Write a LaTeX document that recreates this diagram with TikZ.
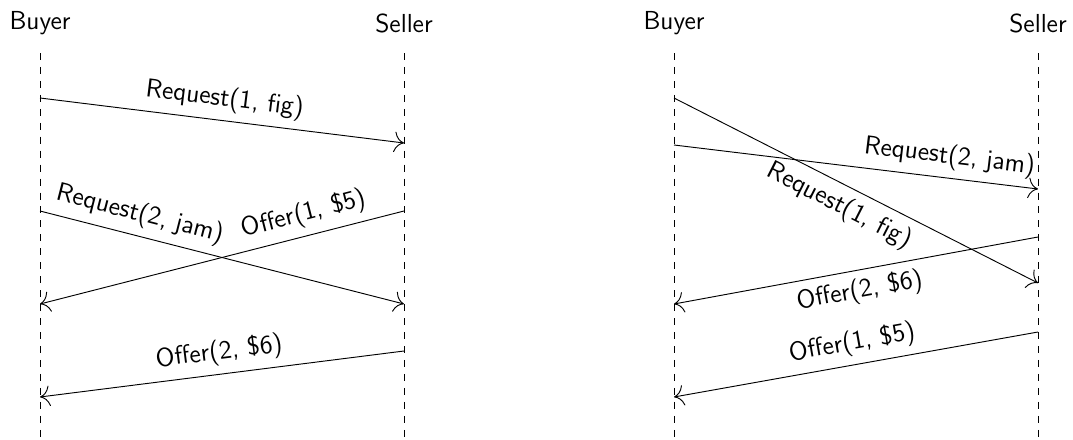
\documentclass[tikz,border=0pt]{standalone}
\usetikzlibrary{arrows.meta}
\begin{document}
\begin{tikzpicture}[x=0.43pt,y=-0.43pt,font=\sffamily\fontsize{11.2}{13.5}\selectfont,
  actor/.style={inner sep=0pt},
  lifeline/.style={dashed},
  msg/.style={-{To[scale=1.7]}}]
\useasboundingbox (0,0) rectangle (1073,440);
% left diagram
\node[actor] (b1) at (40,23) {Buyer};
\node[actor] (s1) at (404,23) {Seller};
\coordinate (b1t) at (40,53); \coordinate (b1b) at (40,440);
\coordinate (s1t) at (404,53); \coordinate (s1b) at (404,440);
\draw[lifeline] (b1t) -- (b1b);
\draw[lifeline] (s1t) -- (s1b);
\coordinate (l1a) at (40,98);  \coordinate (l1b) at (404,143);
\coordinate (l2a) at (40,211); \coordinate (l2b) at (404,304);
\coordinate (l3a) at (404,211); \coordinate (l3b) at (40,304);
\coordinate (l4a) at (404,351); \coordinate (l4b) at (40,397);
\draw[msg] (l1a) -- node[sloped,above] {Request(1, fig)} (l1b);
\draw[msg] (l2a) -- node[sloped,above,pos=0.26] {Request(2, jam)} (l2b);
\draw[msg] (l3a) -- node[sloped,above,pos=0.26] {Offer(1, \$5)} (l3b);
\draw[msg] (l4a) -- node[sloped,above] {Offer(2, \$6)} (l4b);
% right diagram
\node[actor] (b2) at (674,23) {Buyer};
\node[actor] (s2) at (1038,23) {Seller};
\coordinate (b2t) at (674,53); \coordinate (b2b) at (674,440);
\coordinate (s2t) at (1038,53); \coordinate (s2b) at (1038,440);
\draw[lifeline] (b2t) -- (b2b);
\draw[lifeline] (s2t) -- (s2b);
\coordinate (r1a) at (674,98);  \coordinate (r1b) at (1038,283);
\coordinate (r2a) at (674,145); \coordinate (r2b) at (1038,189);
\coordinate (r3a) at (1038,237); \coordinate (r3b) at (674,304);
\coordinate (r4a) at (1038,332); \coordinate (r4b) at (674,397);
\draw[msg] (r1a) -- node[sloped,below,pos=0.48] {Request(1, fig)} (r1b);
\draw[msg] (r2a) -- node[sloped,above,pos=0.75] {Request(2, jam)} (r2b);
\draw[msg] (r3a) -- node[sloped,below] {Offer(2, \$6)} (r3b);
\draw[msg] (r4a) -- node[sloped,above] {Offer(1, \$5)} (r4b);
\end{tikzpicture}
\end{document}
